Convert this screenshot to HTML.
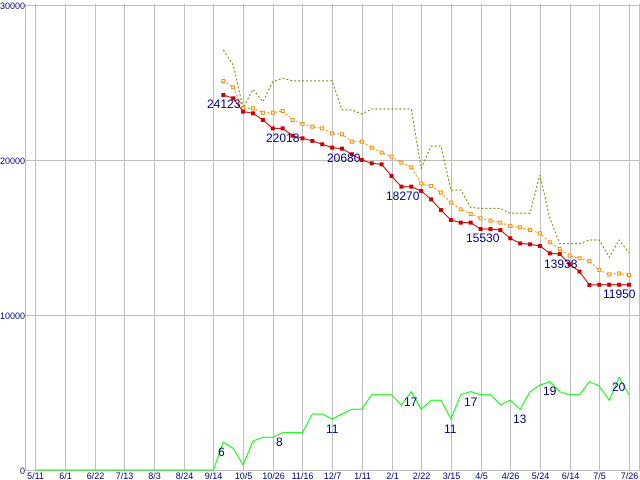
<!DOCTYPE html>
<html><head><meta charset="utf-8"><style>
html,body{margin:0;padding:0;background:#fff;}
svg{display:block;}
text{font-family:"Liberation Sans",sans-serif;}
</style></head><body>
<svg id="chart" width="640" height="480" viewBox="0 0 640 480"></svg>
<script>
const xTickLabels=["5/11","6/1","6/22","7/13","8/3","8/24","9/14","10/5","10/26","11/16","12/7","1/11","2/1","2/22","3/15","4/5","4/26","5/24","6/14","7/5","7/26"];
const yTicks=[0,10000,20000,30000];
const startIndex=19;
const redValues=[24194,23980,23120,23010,22580,22040,22040,21570,21400,21230,21010,20800,20730,20370,20000,19785,19720,18970,18280,18280,18000,17460,16770,16130,15960,15960,15550,15550,15480,14950,14620,14560,14450,13980,13935,13270,12800,11935,11950,11950,11950,11950];
const orangeValues=[25100,24690,23330,23330,23050,23050,23160,22580,22320,22150,22040,21720,21655,21180,21180,20800,20480,20220,19830,19530,18490,18320,17900,17250,16820,16520,16240,16090,15960,15740,15660,15480,15270,14690,14260,13830,13660,13480,12900,12620,12680,12580];
const oliveValues=[27100,26130,23350,24560,23760,25050,25270,25100,25100,25100,25100,25100,23230,23230,22970,23290,23290,23290,23290,23290,19460,20900,20900,18060,18060,16950,16880,16880,16880,16560,16560,16560,19030,16260,14620,14600,14600,14840,14840,13720,14840,14020];
const greenValues=[0,0,0,0,0,0,0,0,0,0,0,0,0,0,0,0,0,0,0,1790,1400,320,1870,2110,2110,2410,2410,2410,3610,3610,3290,3610,3920,3920,4860,4860,4860,4190,5050,3920,4500,4500,3290,4860,5050,4860,4860,4210,4500,3920,5050,5480,5700,5050,4860,4860,5700,5420,4500,5980,4860];
const redLabels=[["24123",207,108],["22018",266,142],["20680",327,162],["18270",386,200],["15530",466,242],["13938",544,268],["11950",603,298]];
const greenLabels=[["6",218,456],["8",276,446],["11",326,433],["17",404,406],["11",444,433],["17",464,406],["13",513,423],["19",543,395],["20",612,391]];

const svg=document.getElementById('chart');
const NS='http://www.w3.org/2000/svg';
function xs(i){return 35.3+i*9.895;}
function ys(v){return 470-v*0.0155;}
function mk(tag,attrs){const e=document.createElementNS(NS,tag);for(const k in attrs)e.setAttribute(k,attrs[k]);svg.appendChild(e);return e;}

yTicks.forEach((t,k)=>{
  const g=mk('line',{x1:25.5,x2:640,y1:Math.round(ys(t))+0.5,y2:Math.round(ys(t))+0.5,stroke:'#c0c0c0','stroke-width':1});
  
  
  const tx=mk('text',{x:25,y:Math.round(ys(t))+4,'text-anchor':'end','font-size':9,fill:'#000080'});
  tx.textContent=t;
  
  
});
const ax=mk('line',{x1:25.5,x2:25.5,y1:4,y2:471,stroke:'#c0c0c0'});


const rb=mk('line',{x1:639.5,x2:639.5,y1:4,y2:471,stroke:'#c0c0c0'});


xTickLabels.forEach((l,k)=>{
  const x=Math.round(xs(k*3))+0.5;
  const g=mk('line',{x1:x,x2:x,y1:4,y2:471,stroke:'#c0c0c0'});
  
  
  const tx=mk('text',{x:x,y:479,'text-anchor':'middle','font-size':9,fill:'#000080'});
  tx.textContent=l;
  
  
});

function pts(vals,off){return vals.map((v,i)=>xs(i+off).toFixed(1)+','+ys(v).toFixed(1)).join(' ');}
const gl=mk('polyline',{points:pts(greenValues,0),fill:'none',stroke:'#00ff00','stroke-width':1});


const ol=mk('polyline',{points:pts(oliveValues,startIndex),fill:'none',stroke:'#808000','stroke-width':1,'stroke-dasharray':'2,2'});


const orl=mk('polyline',{points:pts(orangeValues,startIndex),fill:'none',stroke:'#ff8c00','stroke-width':1,'stroke-dasharray':'2,2'});


orangeValues.forEach((v,i)=>{
  const r=mk('rect',{x:xs(i+startIndex)-1.5,y:ys(v)-1.5,width:3,height:3,fill:'#fff',stroke:'#ff8c00','stroke-width':1});
  
  
});
const rl=mk('polyline',{points:pts(redValues,startIndex),fill:'none',stroke:'#cc0000','stroke-width':1});


redValues.forEach((v,i)=>{
  const r=mk('rect',{x:xs(i+startIndex)-2,y:ys(v)-2,width:4,height:4,fill:'#cc0000'});
  
  
});
redLabels.concat(greenLabels).forEach(l=>{
  const t=mk('text',{x:l[1],y:l[2],'font-size':12,fill:'#000080'});
  t.textContent=l[0];
  
  
});
</script>
</body></html>
